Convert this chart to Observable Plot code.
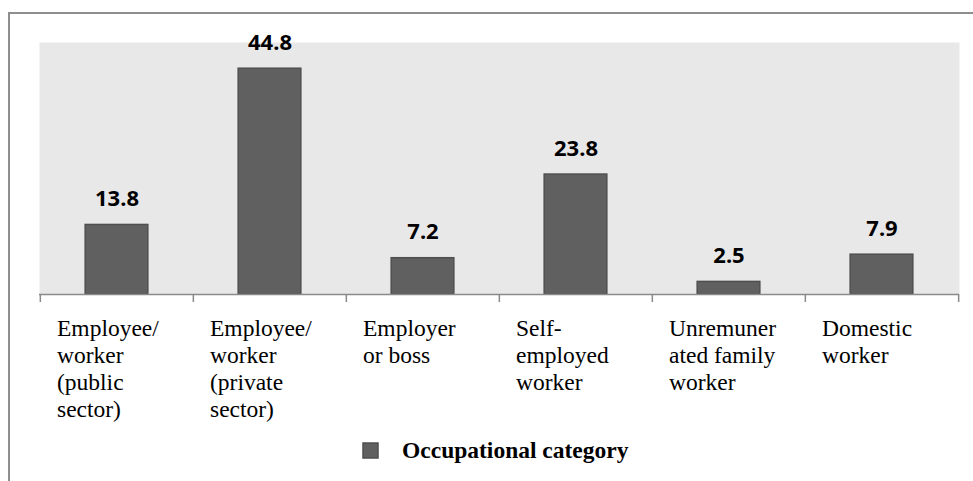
<!DOCTYPE html>
<html><head><meta charset="utf-8">
<script src="https://cdn.jsdelivr.net/npm/d3@7"></script>
<script src="https://cdn.jsdelivr.net/npm/@observablehq/plot@0.6"></script>
<style>
body{margin:0;background:#fff;}
#wrap{position:relative;width:973px;height:481px;overflow:hidden;}
#border{position:absolute;left:8px;top:12px;width:990px;height:600px;border:2px solid #8e8e8e;box-sizing:border-box}
#chart{position:absolute;left:0;top:0}
#legend{position:absolute;left:363px;top:434px}
#legend svg{margin-right:24px !important}
#legend rect{stroke:#4f4f4f;stroke-width:1.5px}
</style></head><body>
<div id="wrap"><div id="border"></div><div id="chart"></div><div id="labels"></div><div id="legend"></div></div>
<script>
const categories = ["Employee/worker (public sector)","Employee/worker (private sector)","Employer or boss","Self-employed worker","Unremunerated family worker","Domestic worker"];
const labels = ["Employee/\nworker\n(public\nsector)","Employee/\nworker\n(private\nsector)","Employer\nor boss","Self-\nemployed\nworker","Unremuner\nated family\nworker","Domestic\nworker"];
const values = [13.8,44.8,7.2,23.8,2.5,7.9];
const seriesName = "Occupational category";
const yDomain = [0,50];

const data = categories.map((c,i)=>({category:c,label:labels[i],value:values[i]}));
const W=973,H=481,mL=39,mR=14,mT=42,mB=187;
const step=(W-mL-mR)/categories.length;
const barW=63, inset=(step-barW)/2;
const barFill="#606060", barStroke="#4f4f4f", axisCol="#8a8a8a";
const serifFont="'Liberation Serif', serif";

const chart = Plot.plot({
  width:W,height:H,marginLeft:mL,marginRight:mR,marginTop:mT,marginBottom:mB,
  style:{background:"transparent"},
  x:{domain:categories,padding:0,axis:null},
  y:{domain:yDomain,axis:null},
  marks:[
    Plot.frame({fill:"#e8e8e8",stroke:null}),
    Plot.barY(data,{x:"category",y:"value",fill:barFill,stroke:barStroke,strokeWidth:1.5,insetLeft:inset,insetRight:inset}),
    Plot.ruleY([0],{stroke:axisCol,strokeWidth:1.5}),
    Plot.axisX({ticks:categories,tickSize:8,tickFormat:()=>"",label:null,dx:-step/2,stroke:axisCol,strokeWidth:1.5}),
    Plot.axisX({ticks:[categories[categories.length-1]],tickSize:8,tickFormat:()=>"",label:null,dx:step/2,stroke:axisCol,strokeWidth:1.5}),
    Plot.text(data,{x:"category",y:"value",text:d=>d.value.toFixed(1),dy:-19,lineAnchor:"bottom",fontWeight:"bold",fontSize:22,fill:"#000"})
  ]
});
document.getElementById("chart").appendChild(chart);

// category labels (wrapped, serif) placed with the chart's own x scale
const sx = chart.scale("x");
const xpos = sx.apply ? (v)=>sx.apply(v)
  : d3.scaleBand(sx.domain, sx.range).paddingInner(sx.paddingInner||0).paddingOuter(sx.paddingOuter||0).align(sx.align ?? 0.5);
const labelBox = document.getElementById("labels");
data.forEach(d=>{
  const el = document.createElement("div");
  el.textContent = d.label;
  Object.assign(el.style,{
    position:"absolute",whiteSpace:"pre",fontFamily:serifFont,fontSize:"23.5px",
    fontWeight:"normal",lineHeight:"27px",color:"#000",margin:"0",
    left:(xpos(d.category) + 17) + "px", top:(H - mB + 21) + "px"
  });
  labelBox.appendChild(el);
});

const legend = Plot.legend({
  color:{type:"ordinal",domain:[seriesName],range:[barFill]},
  legend:"swatches",swatchSize:15,
  style:{fontFamily:serifFont,fontSize:"23.5px",fontWeight:"bold",color:"#000",margin:0}
});
document.getElementById("legend").appendChild(legend);
</script>
</body></html>
